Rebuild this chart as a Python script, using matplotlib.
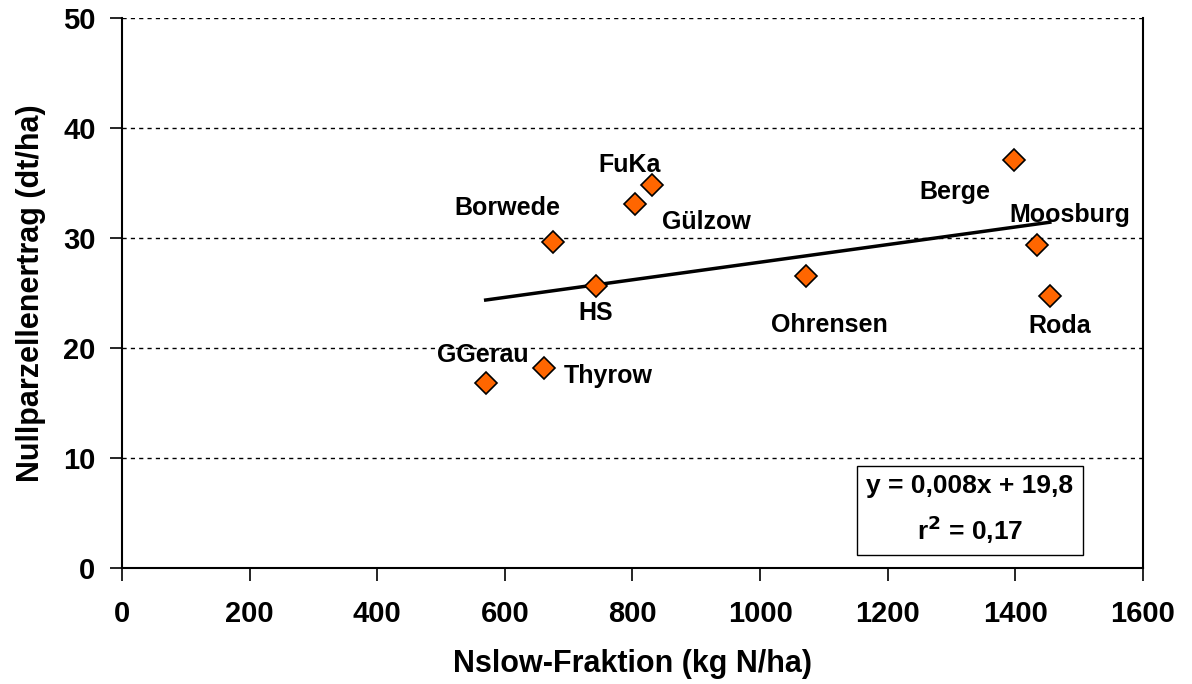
import matplotlib.pyplot as plt
import numpy as np

plt.rcParams['font.family'] = ['Liberation Sans', 'DejaVu Sans']
plt.rcParams['font.weight'] = 'bold'

# site names, Nslow fraction (kg N/ha), zero-plot yield (dt/ha)
sites = ['GGerau', 'Thyrow', 'HS', 'Borwede', 'Gülzow', 'FuKa',
         'Ohrensen', 'Berge', 'Moosburg', 'Roda']
nslow = [570, 661, 743, 675, 804, 830, 1072, 1398, 1434, 1454]
ertrag = [16.8, 18.2, 25.6, 29.6, 33.1, 34.8, 26.5, 37.1, 29.4, 24.7]

# regression shown in the chart
slope = 0.008
intercept = 19.8
r2 = 0.17

# label offsets in pixels (x, y) from each point
offsets = {'GGerau': (-3, 28), 'Thyrow': (64, -8), 'HS': (0, -27),
           'Borwede': (-45, 34), 'Gülzow': (71, -18), 'FuKa': (-22, 20),
           'Ohrensen': (23, -49), 'Berge': (-59, -32), 'Moosburg': (33, 30),
           'Roda': (10, -30)}

fig = plt.figure(figsize=(11.92, 6.84), dpi=100)
ax = fig.add_axes([0.1023, 0.1696, 0.8566, 0.8041])

for yv in [10, 20, 30, 40, 50]:
    ax.axhline(yv, color='black', lw=1, ls=(0, (3, 3)), zorder=1)

xs = np.array([min(nslow), max(nslow)])
ax.plot(xs, slope * xs + intercept, color='black', lw=2.5, zorder=2)

ax.plot(nslow, ertrag, ls='none', marker='D', markersize=11,
        markerfacecolor='#FF6600', markeredgecolor='black',
        markeredgewidth=1.2, zorder=3)

for name, xv, yv in zip(sites, nslow, ertrag):
    dx, dy = offsets[name]
    ax.annotate(name, (xv, yv), xytext=(dx, dy), textcoords='offset pixels',
                ha='center', va='center', fontsize=18, fontweight='bold')

eq = 'y = 0,%03dx + %s' % (round(slope * 1000), str(intercept).replace('.', ','))
rr = 'r$^\\mathbf{2}$ = %s' % str(r2).replace('.', ',')
ax.text(0.8306, 0.1055, eq + '\n' + rr,
        transform=ax.transAxes, ha='center', va='center', fontsize=19,
        fontweight='bold', linespacing=1.6,
        bbox=dict(boxstyle='square,pad=0.35', facecolor='white',
                  edgecolor='black', lw=1))

ax.set_xlim(0, 1600)
ax.set_ylim(0, 50)
ax.set_xticks(range(0, 1601, 200))
ax.set_yticks(range(0, 51, 10))
ax.tick_params(axis='both', labelsize=21, width=1.2, length=9, direction='out')
ax.tick_params(axis='x', pad=14)
ax.tick_params(axis='y', pad=10)
for lbl in ax.get_xticklabels() + ax.get_yticklabels():
    lbl.set_fontweight('bold')

ax.spines['top'].set_visible(False)
for s in ['left', 'bottom', 'right']:
    ax.spines[s].set_linewidth(1.5)

ax.set_xlabel('Nslow-Fraktion (kg N/ha)', fontsize=22, fontweight='bold', labelpad=15)
ax.set_ylabel('Nullparzellenertrag (dt/ha)', fontsize=22, fontweight='bold', labelpad=12)

fig.savefig('out.png', dpi=100)
